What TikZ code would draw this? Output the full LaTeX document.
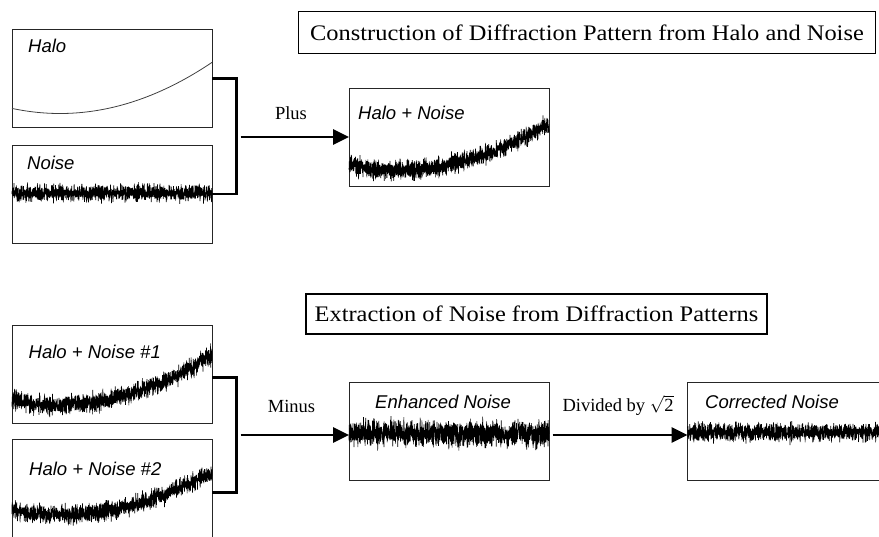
\documentclass[tikz,border=0pt]{standalone}
\usepackage{fontspec}
\setmainfont{Liberation Serif}
\newfontfamily\arialfont{Liberation Sans}
\newfontfamily\titlefont[FakeStretch=1.1]{Liberation Serif}
\usetikzlibrary{arrows.meta}
\begin{document}
\begin{tikzpicture}[x=1pt,y=-1pt,
  plotbox/.style={draw=black!85, line width=0.9pt, minimum width=200pt, minimum height=98pt, inner sep=0pt, outer sep=0pt, anchor=north west},
  titlebox/.style={draw=black, line width=1.3pt, inner sep=0pt, font=\titlefont\fontsize{22.2}{26}\selectfont},
  plotlbl/.style={font=\arialfont\itshape\fontsize{18.5}{22}\selectfont, anchor=west, inner sep=0pt},
  oplbl/.style={font=\fontsize{18.5}{22}\selectfont, inner sep=0pt},
  bracket/.style={line width=2.7pt, line join=miter},
  arr/.style={line width=2.8pt, -{Triangle[length=16pt,width=15pt]}},
  halocurve/.style={draw=black!75, line width=0.8pt},
  noisy/.style={line width=0.7pt, line join=bevel},
]
\useasboundingbox (0,0) rectangle (879,536);
\clip (0,0) rectangle (879,536);
\pgfmathsetseed{4711}

% titles
\node[titlebox, minimum width=577.5pt, minimum height=41.5pt] (t1) at (587,32.5) {Construction of Diffraction Pattern from Halo and Noise};
\node[titlebox, minimum width=461pt, minimum height=40pt] (t2) at (536.5,314) {Extraction of Noise from Diffraction Patterns};

% plot boxes
\node[plotbox] (halo) at (12,29.5) {};
\node[plotbox] (noise) at (12,145) {};
\node[plotbox] (hn) at (349,88) {};
\node[plotbox] (hn1) at (12,325) {};
\node[plotbox] (hn2) at (12,439.5) {};
\node[plotbox] (enh) at (349,382.5) {};
\node[plotbox] (cor) at (687.5,382.5) {};

% curves
\begin{scope}[shift={(halo.north west)}]
  \draw[halocurve] plot[domain=0:200, samples=100, smooth] (\x,{84-0.0022075*(\x-48)*(\x-48)});
\end{scope}
\begin{scope}[shift={(noise.north west)}]
  \draw[noisy] plot[domain=0:200, samples=1601] (\x,{48+4*(rand+rand+rand)});
\end{scope}
\begin{scope}[shift={(hn.north west)}]
  \draw[noisy] plot[domain=0:200, samples=1601] (\x,{82-0.002034*(\x-48)*(\x-48)+4.6*(rand+rand+rand)});
\end{scope}
\begin{scope}[shift={(hn1.north west)}]
  \draw[noisy] plot[domain=0:200, samples=1601] (\x,{80-0.002164*(\x-48)*(\x-48)+4.6*(rand+rand+rand)});
\end{scope}
\begin{scope}[shift={(hn2.north west)}]
  \draw[noisy] plot[domain=0:200, samples=1601] (\x,{75-0.00184*(\x-48)*(\x-48)+4.6*(rand+rand+rand)});
\end{scope}
\begin{scope}[shift={(enh.north west)}]
  \draw[noisy] plot[domain=0:200, samples=1601] (\x,{51+6.3*(rand+rand+rand)});
\end{scope}
\begin{scope}[shift={(cor.north west)}]
  \draw[noisy] plot[domain=0:200, samples=1601] (\x,{50+4.5*(rand+rand+rand)});
\end{scope}

% labels in boxes
\node[plotlbl] (l-halo) at (28,46) {Halo};
\node[plotlbl] (l-noise) at (27,162.5) {Noise};
\node[plotlbl] (l-hn) at (358,112.5) {Halo + Noise};
\node[plotlbl] (l-hn1) at (28.5,351.5) {Halo + Noise \#1};
\node[plotlbl] (l-hn2) at (29,469) {Halo + Noise \#2};
\node[plotlbl] (l-enh) at (375,401.5) {Enhanced Noise};
\node[plotlbl] (l-cor) at (705,401.5) {Corrected Noise};

% operation labels
\node[oplbl] (plus) at (291,113) {Plus};
\node[oplbl] (minus) at (291.5,406) {Minus};
\node[oplbl] (div) at (618,405) {Divided by $\sqrt{\mbox{2}}$};

% connectors
\coordinate (j1) at (236.7,0);
\draw[bracket] (halo.east) -| (j1 |- noise.east) -- (noise.east);
\coordinate (a1) at (240.7,0);
\draw[arr] (a1 |- hn.west) -- (hn.west);

\coordinate (j2t) at (236.7,377.3);
\coordinate (j2b) at (236.7,492.7);
\draw[bracket] (hn1.east |- j2t) -- (j2t) -- (j2b) -- (hn2.east |- j2b);
\coordinate (a2) at (240.7,435);
\draw[arr] (a2) -- (enh.west |- a2);
\coordinate (a3) at (552.7,435);
\draw[arr] (a3) -- (cor.west |- a3);
\end{tikzpicture}
\end{document}
